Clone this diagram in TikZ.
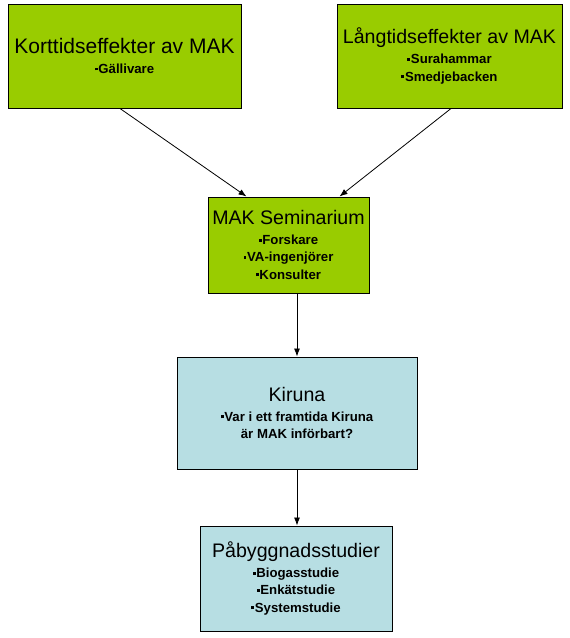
\documentclass[tikz,border=0pt]{standalone}
\usepackage{fontspec}
\setmainfont{Liberation Sans}
\usetikzlibrary{arrows.meta}
\definecolor{boxgreen}{RGB}{153,204,0}
\definecolor{boxblue}{RGB}{183,222,227}
\newcommand\mybul{\rule[3pt]{2.8pt}{2.8pt}\hspace{0.8pt}}
\newcommand\mytitle[2][19.6]{{\mdseries\fontsize{#1}{17}\selectfont #2}\\[2.5pt]}
\tikzset{
  box/.style={draw=black, line width=1pt, align=center, inner sep=0pt,
    font=\fontsize{13.2}{17.3}\selectfont\bfseries},
  gbox/.style={box, fill=boxgreen},
  bbox/.style={box, fill=boxblue},
  conn/.style={line width=0.8pt, -{Latex[length=8pt,width=6pt]}}
}
\begin{document}
\begin{tikzpicture}[x=1pt,y=-1pt]
\useasboundingbox (0,0) rectangle (570,638);
\node[gbox, minimum width=233pt, minimum height=104pt] (b1) at (124.5,56)
  {\mytitle[21]{Korttidseffekter av MAK}\mybul Gällivare};
\node[gbox, minimum width=225pt, minimum height=104pt] (b2) at (449.5,56)
  {\mytitle{Långtidseffekter av MAK}\mybul Surahammar\\\mybul Smedjebacken};
\node[gbox, minimum width=161pt, minimum height=96pt] (b3) at (288.5,245)
  {\mytitle{MAK Seminarium}\mybul Forskare\\\mybul VA-ingenjörer\\\mybul Konsulter};
\node[bbox, minimum width=240pt, minimum height=112pt] (b4) at (297,413)
  {\mytitle{Kiruna}\mybul Var i ett framtida Kiruna\\är MAK införbart?};
\node[bbox, minimum width=192pt, minimum height=105pt] (b5) at (296,578.5)
  {\mytitle{Påbyggnadsstudier}\mybul Biogasstudie\\\mybul Enkätstudie\\\mybul Systemstudie};
\draw[conn] ([xshift=-4.5pt]b1.south) -- ([xshift=39pt]b3.north west);
\draw[conn] ([xshift=1.5pt]b2.south) -- ([xshift=-30pt]b3.north east);
\draw[conn] (b3.south -| b4.north) -- (b4.north);
\draw[conn] (b4.south) -- (b5.north -| b4.south);
\end{tikzpicture}
\end{document}
